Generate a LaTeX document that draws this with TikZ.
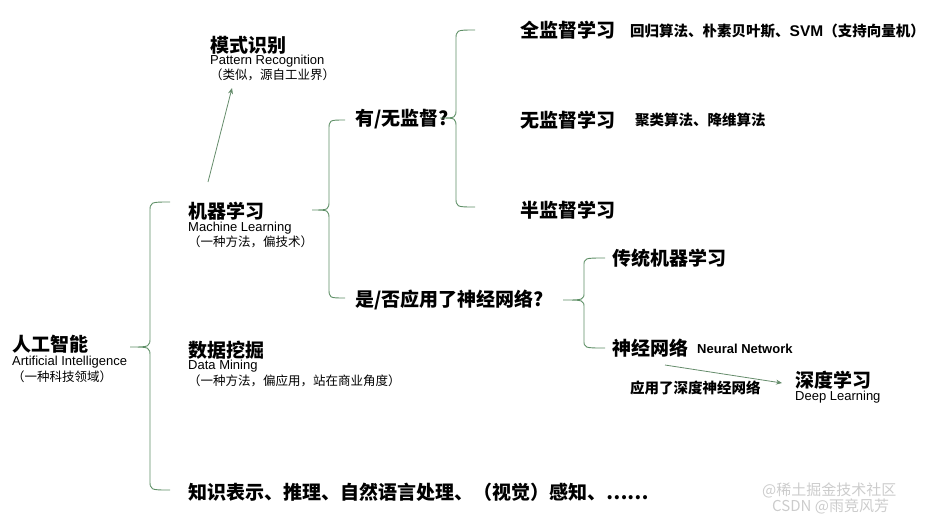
\documentclass[tikz,border=0pt]{standalone}
\usepackage{fontspec}
\setmainfont{Noto Sans CJK SC}
\newfontfamily\enf{Liberation Sans}
\usetikzlibrary{arrows.meta}
\definecolor{br}{HTML}{5E8F66}
\tikzset{
 big/.style={anchor=west,inner sep=0pt,font=\bfseries\fontsize{19}{21}\selectfont},
 en/.style={anchor=west,inner sep=0pt,font=\enf\fontsize{13}{14}\selectfont},
 par/.style={anchor=west,inner sep=0pt,font=\fontsize{12.5}{14}\selectfont},
 note/.style={anchor=west,inner sep=0pt,font=\bfseries\fontsize{14.5}{15}\selectfont},
 brc/.style={draw=br,line width=0.9pt},
 arr/.style={draw=br!80!gray,line width=0.8pt,-{Stealth[length=6pt,width=5pt]}}
}
\begin{document}
\begin{tikzpicture}[x=1pt,y=-1pt]
\useasboundingbox (0,0) rectangle (940,520);
\node[big] (ai) at (12,344) {人工智能};
\node[en] (aie) at (12,362) {Artificial Intelligence};
\node[par] (aip) at (12,377) {（一种科技领域）};
\node[big] (pr) at (210,45) {模式识别};
\node[en] (pre) at (210,61) {Pattern Recognition};
\node[par] (prp) at (210,75) {（类似，源自工业界）};
\node[big] (ml) at (188,211) {机器学习};
\node[en] (mle) at (188,228) {Machine Learning};
\node[par] (mlp) at (188,242) {（一种方法，偏技术）};
\node[big] (dm) at (188,350) {数据挖掘};
\node[en] (dme) at (188,366) {Data Mining};
\node[par] (dmp) at (188,381) {（一种方法，偏应用，站在商业角度）};
\node[big] (kr) at (188,492) {知识表示、推理、自然语言处理、（视觉）感知、……};
\node[big] (sup) at (355,119) {有/无监督?};
\node[big] (nn) at (355,300) {是/否应用了神经网络?};
\node[big] (full) at (520,30) {全监督学习};
\node[note] (fulln) at (630,31) {回归算法、朴素贝叶斯、{\enf\bfseries\fontsize{15.5}{16}\selectfont SVM}（支持向量机）};
\node[big] (uns) at (520,120) {无监督学习};
\node[note] (unsn) at (635,120) {聚类算法、降维算法};
\node[big] (semi) at (520,210) {半监督学习};
\node[big] (trad) at (612,258) {传统机器学习};
\node[big] (neur) at (612,348) {神经网络};
\node[anchor=west,inner sep=0pt,font=\enf\bfseries\fontsize{13}{14}\selectfont] (neure) at (697,349) {Neural Network};
\node[big] (dl) at (795,380) {深度学习};
\node[en] (dle) at (795,397) {Deep Learning};
\node[note] (dln) at (630,388) {应用了深度神经网络};
\node[anchor=west,inner sep=0pt,text=gray!40,font=\fontsize{15}{16}\selectfont] (wm1) at (762,490) {@稀土掘金技术社区};
\node[anchor=west,inner sep=0pt,text=gray!40,font=\fontsize{15}{16}\selectfont] (wm2) at (772,506) {CSDN @雨竞风芳};
\path[brc] (170,202) .. controls (150,202) .. (150,212) -- (150,337) .. controls (150,347) .. (130,347)
 .. controls (150,347) .. (150,357) -- (150,480) .. controls (150,490) .. (170,490);
\path[brc] (345,120) .. controls (329,120) .. (329,130) -- (329,200) .. controls (329,210) .. (312,210)
 .. controls (329,210) .. (329,220) -- (329,288) .. controls (329,298) .. (345,298);
\path[brc] (475,30) .. controls (456,30) .. (456,40) -- (456,108) .. controls (456,118) .. (440,118)
 .. controls (456,118) .. (456,128) -- (456,197) .. controls (456,207) .. (475,207);
\path[brc] (605,258) .. controls (584,258) .. (584,266) -- (584,292) .. controls (584,300) .. (563,300)
 .. controls (584,300) .. (584,308) -- (584,340) .. controls (584,348) .. (605,348);
\draw[arr] (208,182) -- (232,88);
\draw[arr] (665,365) -- (782,383);
\end{tikzpicture}
\end{document}
